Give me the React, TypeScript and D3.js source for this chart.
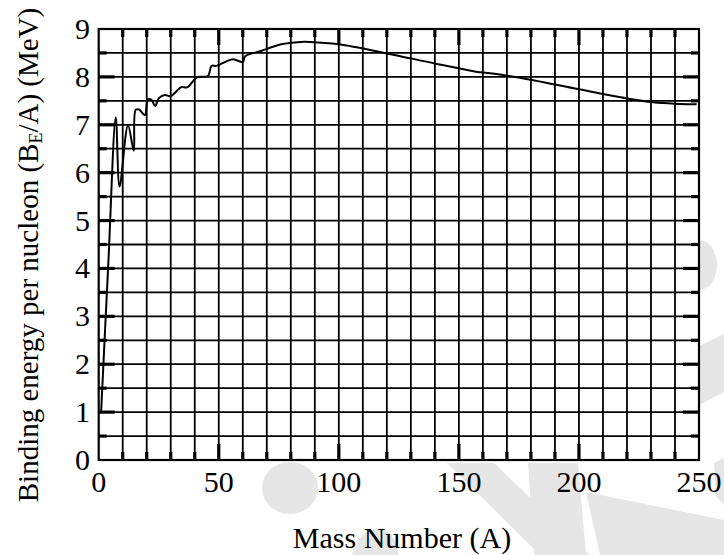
import React from 'react';
import * as d3 from 'd3';

// values (mass number A, binding energy per nucleon in MeV)
const massNumber = [
  1, 4, 7.1, 8.7, 12.2, 14.6, 15.4, 16.8, 19.2, 20.5, 22, 23.5, 25, 27.5, 29.9,
  33, 34.5, 36.8, 40, 41.4, 45.5, 47, 49, 53, 56, 60, 61, 67.5, 76, 84, 88, 100,
  120, 140, 156, 167, 181, 200, 220, 231, 240, 249,
];
const bindingEnergy = [
  1.0, 4.1, 7.15, 5.71, 6.99, 6.46, 7.31, 7.32, 7.2, 7.53, 7.52, 7.39, 7.55, 7.62,
  7.6, 7.73, 7.79, 7.78, 7.95, 8.0, 8.02, 8.23, 8.23, 8.32, 8.37, 8.31, 8.43, 8.54,
  8.68, 8.73, 8.73, 8.68, 8.49, 8.28, 8.12, 8.05, 7.93, 7.74, 7.55, 7.47, 7.44,
  7.43,
];

const xTickLabels = [0, 50, 100, 150, 200, 250];
const yTickLabels = [0, 1, 2, 3, 4, 5, 6, 7, 8, 9];

const fontStyle = {
  fontFamily: '"Liberation Serif", "DejaVu Serif", "Times New Roman", Times, serif',
};

const App = () => {
  const width = 724;
  const height = 555;
  const margin = { left: 98.7, right: 25, top: 29, bottom: 95 };

  const x = d3
    .scaleLinear()
    .domain([0, 250])
    .range([margin.left, width - margin.right]);
  const y = d3
    .scaleLinear()
    .domain([0, 9])
    .range([height - margin.bottom, margin.top]);

  const x0 = x(0);
  const x1 = x(250);
  const y0 = y(0);
  const y1 = y(9);

  const xGrid = d3.range(10, 250, 10);
  const yGrid = d3.range(0.5, 9, 0.5);

  const points = massNumber.map((a, i) => [a, bindingEnergy[i]] as [number, number]);
  const line = d3
    .line<[number, number]>()
    .x((d) => x(d[0]))
    .y((d) => y(d[1]))
    .curve(d3.curveCatmullRom.alpha(0.5));

  const wm = '#e6e6e6';

  return (
    <svg
      width={width}
      height={height}
      style={{ position: 'absolute', left: 0, top: 0, background: '#fff', ...fontStyle }}
    >
      {/* faint watermark behind the chart */}
      <g fill={wm}>
        <ellipse cx={290} cy={488} rx={28} ry={26} />
        <polygon points="447,463 494,463 590,555 540,555" />
        <polygon points="528,463 578,463 586,555 534,555" />
        <polygon points="586,492 724,520 724,555 600,555" />
        <polygon points="714,463 724,458 724,505 716,496" />
        <ellipse cx={699} cy={265} rx={18} ry={25} />
        <polygon points="699,346 724,334 724,392 699,405" />
        <path d="M352,555 Q360,528 382,528 Q396,534 398,555 Z" />
      </g>

      <rect x={x0} y={y1} width={x1 - x0} height={y0 - y1} fill="#fff" />

      {/* grid */}
      <g stroke="#000" strokeWidth={1.8}>
        {xGrid.map((v) => (
          <line key={`gx${v}`} x1={x(v)} x2={x(v)} y1={y1} y2={y0} />
        ))}
        {yGrid.map((v) => (
          <line key={`gy${v}`} x1={x0} x2={x1} y1={y(v)} y2={y(v)} />
        ))}
      </g>

      {/* inward ticks */}
      <g stroke="#000" strokeWidth={3.2}>
        {xGrid.map((v) => {
          const len = v % 50 === 0 ? 16 : 8;
          return (
            <g key={`tx${v}`}>
              <line x1={x(v)} x2={x(v)} y1={y0} y2={y0 - len} />
              <line x1={x(v)} x2={x(v)} y1={y1} y2={y1 + len} />
            </g>
          );
        })}
        {yGrid.map((v) => {
          const len = v % 1 === 0 ? 16 : 8;
          return (
            <g key={`ty${v}`}>
              <line x1={x0} x2={x0 + len} y1={y(v)} y2={y(v)} />
              <line x1={x1} x2={x1 - len} y1={y(v)} y2={y(v)} />
            </g>
          );
        })}
      </g>

      <rect
        x={x0}
        y={y1}
        width={x1 - x0}
        height={y0 - y1}
        fill="none"
        stroke="#000"
        strokeWidth={2.2}
      />

      <path d={line(points) ?? ''} fill="none" stroke="#000" strokeWidth={2} />

      {/* tick labels */}
      <g fontSize={30} fill="#000">
        {xTickLabels.map((v) => (
          <text key={`lx${v}`} x={x(v)} y={492} textAnchor="middle">
            {v}
          </text>
        ))}
        {yTickLabels.map((v) => (
          <text key={`ly${v}`} x={90} y={y(v) + 10} textAnchor="end">
            {v}
          </text>
        ))}
      </g>

      <text x={402} y={548} textAnchor="middle" fontSize={30} fill="#000">
        Mass Number (A)
      </text>

      <text
        transform="translate(38, 255) rotate(-90)"
        textAnchor="middle"
        fontSize={29}
        fill="#000"
      >
        Binding energy per nucleon (B
        <tspan fontSize={18} dy={4}>
          E
        </tspan>
        <tspan dy={-4}>/A) (MeV)</tspan>
      </text>
    </svg>
  );
};

export default App;
